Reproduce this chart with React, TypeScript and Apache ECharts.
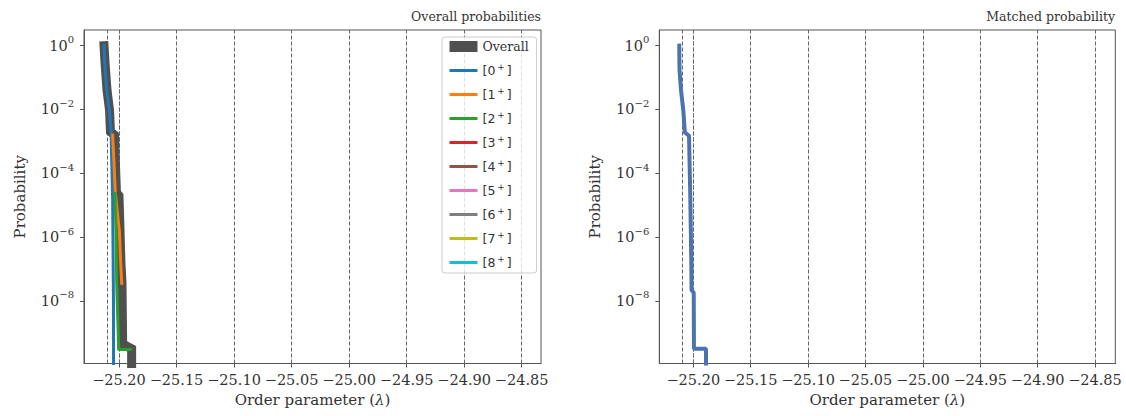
import { useEffect, useRef } from 'react';
import * as echarts from 'echarts';

// ---------- data ----------
const xTicks = [-25.2, -25.15, -25.1, -25.05, -25.0, -24.95, -24.9, -24.85];
const yTickExponents = [0, -2, -4, -6, -8];
const refLines = [-25.2122, -25.2049, -25.203, -25.15, -25.1, -25.05, -25.0, -24.95, -24.9, -24.85];

const stateNames = ['[0+]', '[1+]', '[2+]', '[3+]', '[4+]', '[5+]', '[6+]', '[7+]', '[8+]'];
const stateColors = ['#1f77b4', '#ff7f0e', '#2ca02c', '#d62728', '#8c564b', '#e377c2', '#7f7f7f', '#bcbd22', '#17becf'];

const overallLambda = [-25.213, -25.2121, -25.2104, -25.2082, -25.2074, -25.2039, -25.2031, -25.2022, -25.2, -25.1991, -25.1983, -25.1974, -25.1968, -25.189, -25.189];
const overallProb = [1.0, 0.282, 0.0407, 0.00955, 0.002, 0.00158, 2.04e-4, 2.5e-5, 2.0e-5, 1.66e-6, 1.51e-7, 4.0e-8, 4.5e-10, 3.2e-10, 3.2e-11];

const state0Lambda = [-25.213, -25.2124, -25.2107, -25.2084, -25.2069, -25.2055, -25.2048, -25.2047];
const state0Prob = [1.0, 0.282, 0.0407, 0.00955, 0.00229, 1.45e-5, 1.07e-8, 3.2e-11];

const state1Lambda = [-25.2055, -25.2043, -25.2032, -25.1997, -25.1985, -25.1976];
const state1Prob = [1.58e-3, 2.04e-4, 2.34e-5, 1.66e-6, 1.51e-7, 3.55e-8];

const state2Lambda = [-25.2035, -25.2026, -25.202, -25.2004, -25.2004, -25.19];
const state2Prob = [2.34e-5, 1.66e-6, 3.55e-8, 4.7e-10, 3.0e-10, 3.0e-10];

const matchedLambda = [-25.2122, -25.212, -25.2107, -25.2087, -25.2075, -25.2073, -25.2037, -25.2026, -25.2017, -25.2015, -25.1996, -25.1994, -25.1889, -25.1889];
const matchedProb = [1.0, 0.174, 0.041, 0.0095, 0.0023, 0.0019, 0.0015, 1.9e-5, 1.5e-7, 2.2e-8, 1.8e-8, 3.2e-10, 3.2e-10, 1e-11];

// ---------- helpers ----------
const pairs = (xs: number[], ps: number[]) => xs.map((x, i) => [x, Math.log10(ps[i])]);
const SERIF = 'DejaVu Serif';
const TXT = '#333';
const AX = '#555';

const supRich = {
  b: { fontFamily: SERIF, fontSize: 14.5, color: TXT, lineHeight: 22 },
  s: { fontFamily: SERIF, fontSize: 10, color: TXT, verticalAlign: 'top', lineHeight: 11 },
};

function makeX(idx: number, min: number, max: number) {
  return {
    type: 'value', gridIndex: idx, min, max,
    name: 'Order parameter ({i|λ})', nameLocation: 'middle', nameGap: 27,
    nameTextStyle: { fontFamily: SERIF, fontSize: 15, color: TXT, rich: { i: { fontFamily: SERIF, fontSize: 15, fontStyle: 'italic', color: TXT } } },
    axisLine: { show: true, onZero: false, lineStyle: { color: AX, width: 1 } },
    axisTick: { show: true, customValues: xTicks, length: 4, lineStyle: { color: AX } },
    axisLabel: {
      customValues: xTicks, margin: 9, fontFamily: SERIF, fontSize: 14.5, color: TXT,
      formatter: (v: number) => v.toFixed(2).replace('-', '−'),
    },
    splitLine: { show: false },
  };
}

function makeY(idx: number) {
  return {
    type: 'value', gridIndex: idx, min: -9.96, max: 0.49,
    name: 'Probability', nameLocation: 'middle', nameGap: 57,
    nameTextStyle: { fontFamily: SERIF, fontSize: 15, color: TXT },
    axisLine: { show: true, onZero: false, lineStyle: { color: AX, width: 1 } },
    axisTick: { show: true, customValues: yTickExponents, length: 4, lineStyle: { color: AX } },
    axisLabel: {
      customValues: yTickExponents, margin: 10,
      formatter: (v: number) => `{b|10}{s|${v < 0 ? '−' + Math.abs(v) : String(v)}}`,
      rich: supRich,
    },
    splitLine: { show: false },
  };
}

function refLineSeries(idx: number) {
  return {
    type: 'line', name: 'ref' + idx, xAxisIndex: idx, yAxisIndex: idx, data: [], silent: true,
    markLine: {
      silent: true, symbol: 'none', z: 1, animation: false,
      label: { show: false },
      lineStyle: { color: '#666', width: 1, type: [4, 2] },
      data: refLines.map((v) => ({ xAxis: v })),
    },
  };
}

export default function App() {
  const ref = useRef<HTMLDivElement>(null);
  useEffect(() => {
    if (!ref.current) return;
    const chart = echarts.init(ref.current, null, { renderer: 'svg' });
    const stateData = [pairs(state0Lambda, state0Prob), pairs(state1Lambda, state1Prob), pairs(state2Lambda, state2Prob)];
    const stateSeries = stateNames.map((n, i) => ({
      type: 'line', name: n, xAxisIndex: 0, yAxisIndex: 0,
      data: stateData[i] || [], showSymbol: false, symbol: 'none', clip: true, z: 3,
      lineStyle: { color: stateColors[i], width: 3, cap: 'square' }, itemStyle: { color: stateColors[i] },
    }));
    chart.setOption({
      animation: false,
      title: [
        { text: 'Overall probabilities', right: 585, top: 10, padding: 0, textStyle: { fontFamily: SERIF, fontSize: 12.5, fontWeight: 'normal', color: TXT } },
        { text: 'Matched probability', right: 11, top: 10, padding: 0, textStyle: { fontFamily: SERIF, fontSize: 12.5, fontWeight: 'normal', color: TXT } },
      ],
      grid: [
        { left: 84, top: 30, width: 457, height: 333.5, show: true, borderColor: AX, borderWidth: 1, backgroundColor: 'transparent' },
        { left: 659.3, top: 30, width: 456, height: 333.5, show: true, borderColor: AX, borderWidth: 1, backgroundColor: 'transparent' },
      ],
      xAxis: [makeX(0, -25.2304, -24.8332), makeX(1, -25.2296, -24.8323)],
      yAxis: [makeY(0), makeY(1)],
      legend: {
        orient: 'vertical', left: 442, top: 37,
        padding: [3, 8, 4, 2], itemWidth: 28, itemHeight: 14, itemGap: 9.5,
        backgroundColor: 'rgba(255,255,255,0.8)', borderColor: '#ccc', borderWidth: 1, borderRadius: 3,
        selectedMode: false, z: 6,
        itemStyle: { opacity: 0, color: 'transparent', borderWidth: 0 },
        data: [{ name: 'Overall', lineStyle: { width: 11, cap: 'butt' } }, ...stateNames.map((n) => ({ name: n, lineStyle: { width: 3, cap: 'butt' } }))],
        formatter: (name: string) => {
          if (name === 'Overall') return '{o|Overall}';
          const k = name.slice(1, -2);
          return `{n|[${k}}{p|+}{n|]}`;
        },
        textStyle: {
          rich: {
            o: { fontFamily: SERIF, fontSize: 12.5, color: TXT },
            n: { fontFamily: 'DejaVu Sans', fontSize: 12.5, color: TXT, lineHeight: 16 },
            p: { fontFamily: 'DejaVu Sans', fontSize: 9, color: TXT, verticalAlign: 'top', lineHeight: 9, padding: [0, 2, 0, 2] },
          },
        },
      },
      series: [
        refLineSeries(0),
        refLineSeries(1),
        {
          type: 'line', name: 'Overall', xAxisIndex: 0, yAxisIndex: 0,
          data: pairs(overallLambda, overallProb), showSymbol: false, symbol: 'none', clip: true, z: 2,
          lineStyle: { color: '#505050', width: 9, cap: 'square', join: 'miter' }, itemStyle: { color: '#505050' },
        },
        ...stateSeries,
        {
          type: 'line', name: 'Matched', xAxisIndex: 1, yAxisIndex: 1,
          data: pairs(matchedLambda, matchedProb), showSymbol: false, symbol: 'none', clip: true, z: 3,
          lineStyle: { color: '#4c72b0', width: 4, cap: 'square' }, itemStyle: { color: '#4c72b0' },
        },
      ],
    });
    return () => chart.dispose();
  }, []);
  return <div ref={ref} style={{ position: 'fixed', left: 0, top: 0, width: 1126, height: 416, background: '#fff' }} />;
}
